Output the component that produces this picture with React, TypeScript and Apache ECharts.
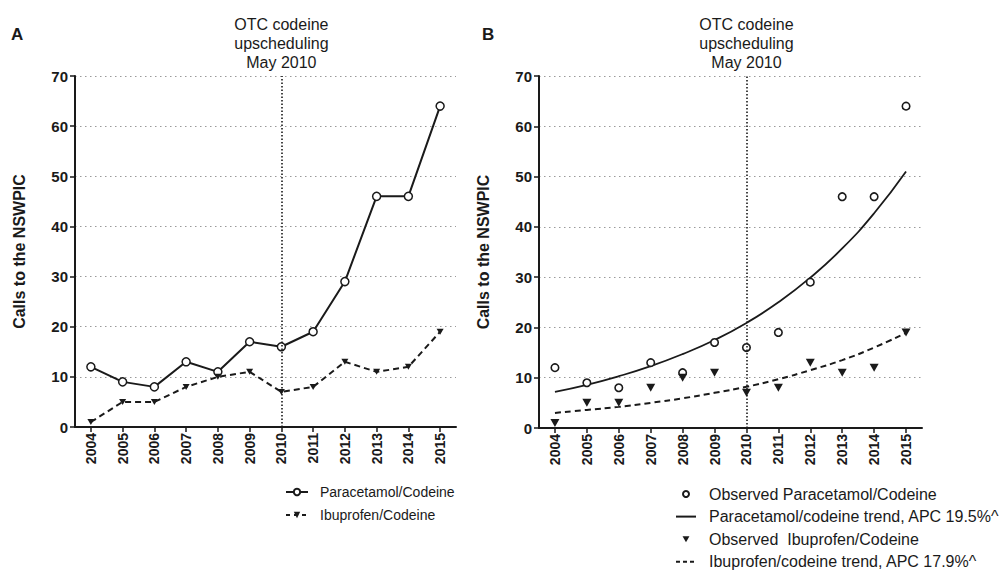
import React, { useEffect, useRef } from "react";
import * as echarts from "echarts";

const years = ["2004", "2005", "2006", "2007", "2008", "2009", "2010", "2011", "2012", "2013", "2014", "2015"];
const paracetamolObserved = [12, 9, 8, 13, 11, 17, 16, 19, 29, 46, 46, 64];
const ibuprofenObserved = [1, 5, 5, 8, 10, 11, 7, 8, 13, 11, 12, 19];
const paracetamolTrend = [7.2, 8.6, 10.3, 12.3, 14.7, 17.5, 20.9, 25.0, 29.9, 35.7, 42.7, 51.0];
const ibuprofenTrend = [3.0, 3.6, 4.2, 5.0, 5.9, 7.0, 8.2, 9.7, 11.5, 13.5, 16.0, 18.9];
const yTicks = { min: 0, max: 70, interval: 10 };
const interventionYear = "2010";
const interventionLabel = "OTC codeine\nupscheduling\nMay 2010";
const yTitle = "Calls to the NSWPIC";
const namesA = ["Paracetamol/Codeine", "Ibuprofen/Codeine"];
const namesB = [
  "Observed Paracetamol/Codeine",
  "Paracetamol/codeine trend, APC 19.5%^",
  "Observed  Ibuprofen/Codeine",
  "Ibuprofen/codeine trend, APC 17.9%^",
];

const FONT = "'Liberation Sans', Arial, Helvetica, sans-serif";
const INK = "#1a1a1a";
const TRI = "path://M0,0L10,0L5,8.66Z";

function xAxis(gridIndex: number) {
  return {
    type: "category",
    gridIndex,
    data: years,
    boundaryGap: true,
    axisLine: { show: true, lineStyle: { color: INK, width: 2 } },
    axisTick: { show: true, alignWithLabel: true, length: 5, lineStyle: { color: INK, width: 1.5 } },
    axisLabel: { rotate: 90, fontSize: 14, fontWeight: "bold", color: INK, fontFamily: FONT, margin: 6 },
    splitLine: { show: false },
  };
}

function yAxis(gridIndex: number) {
  return {
    type: "value",
    gridIndex,
    min: yTicks.min,
    max: yTicks.max,
    interval: yTicks.interval,
    name: yTitle,
    nameLocation: "middle",
    nameRotate: 90,
    nameGap: 48,
    nameTextStyle: { fontSize: 16, fontWeight: "bold", color: INK, fontFamily: FONT },
    axisLine: { show: true, lineStyle: { color: INK, width: 2 } },
    axisTick: { show: true, length: 5, lineStyle: { color: INK, width: 1.5 } },
    axisLabel: { fontSize: 15, fontWeight: "bold", color: INK, fontFamily: FONT, margin: 7 },
    splitLine: { show: true, lineStyle: { color: "#9a9a9a", type: [1.5, 3.5], width: 1.2 } },
  };
}

function markLine() {
  return {
    silent: true,
    symbol: ["none", "none"],
    animation: false,
    lineStyle: { color: INK, type: [1.5, 2], width: 1.6 },
    label: {
      show: true,
      position: "end",
      formatter: interventionLabel,
      fontSize: 16,
      lineHeight: 19,
      color: INK,
      fontFamily: FONT,
      distance: 4,
    },
    emphasis: { disabled: true },
    data: [{ xAxis: interventionYear }],
  };
}

const hiddenSymbol = { color: "transparent", borderColor: "transparent", opacity: 0 };

export default function App() {
  const ref = useRef<HTMLDivElement>(null);
  useEffect(() => {
    if (!ref.current) return;
    const chart = echarts.init(ref.current, undefined, { renderer: "svg" });
    const option = {
      animation: false,
      backgroundColor: "#ffffff",
      textStyle: { fontFamily: FONT },
      grid: [
        { left: 75, top: 76, width: 381, height: 351 },
        { left: 539, top: 76, width: 383, height: 352 },
      ],
      xAxis: [xAxis(0), xAxis(1)],
      yAxis: [yAxis(0), yAxis(1)],
      legend: [
        {
          data: [{ name: namesA[0] }, { name: namesA[1], lineStyle: { type: [4, 4] } }],
          orient: "vertical",
          left: 285,
          top: 484,
          padding: 0,
          itemWidth: 22,
          itemHeight: 8,
          itemGap: 7,
          selectedMode: false,
          textStyle: { fontSize: 14, lineHeight: 16, color: INK, fontFamily: FONT, padding: [0, 0, 0, 7] },
        },
        {
          data: [
            { name: namesB[0] },
            { name: namesB[1], itemStyle: hiddenSymbol },
            { name: namesB[2] },
            { name: namesB[3], itemStyle: hiddenSymbol, lineStyle: { type: [4, 3] } },
          ],
          orient: "vertical",
          left: 675,
          top: 486,
          padding: 0,
          itemWidth: 20,
          itemHeight: 6,
          itemGap: 6.6,
          selectedMode: false,
          textStyle: { fontSize: 16, lineHeight: 16, color: INK, fontFamily: FONT, padding: [0, 0, 0, 8] },
        },
      ],
      graphic: [
        { type: "text", left: 11, top: 26, style: { text: "A", font: `bold 17px ${FONT}`, fill: INK } },
        { type: "text", left: 482, top: 26, style: { text: "B", font: `bold 17px ${FONT}`, fill: INK } },
      ],
      series: [
        {
          name: namesA[0],
          type: "line",
          xAxisIndex: 0,
          yAxisIndex: 0,
          data: paracetamolObserved,
          symbol: "circle",
          symbolSize: 8,
          itemStyle: { color: "#ffffff", borderColor: INK, borderWidth: 1.5 },
          lineStyle: { color: INK, width: 2 },
          z: 3,
          markLine: markLine(),
        },
        {
          name: namesA[1],
          type: "line",
          xAxisIndex: 0,
          yAxisIndex: 0,
          data: ibuprofenObserved,
          symbol: TRI,
          symbolSize: [7, 6],
          itemStyle: { color: INK },
          lineStyle: { color: INK, width: 2, type: [6, 4] },
          z: 3,
        },
        {
          name: namesB[0],
          type: "scatter",
          xAxisIndex: 1,
          yAxisIndex: 1,
          data: paracetamolObserved,
          symbol: "circle",
          symbolSize: 7.5,
          itemStyle: { color: "#ffffff", borderColor: INK, borderWidth: 1.6, opacity: 1 },
          z: 4,
        },
        {
          name: namesB[1],
          type: "line",
          xAxisIndex: 1,
          yAxisIndex: 1,
          data: paracetamolTrend,
          symbol: "none",
          smooth: true,
          lineStyle: { color: INK, width: 1.8 },
          itemStyle: { color: INK },
          z: 3,
          markLine: markLine(),
        },
        {
          name: namesB[2],
          type: "scatter",
          xAxisIndex: 1,
          yAxisIndex: 1,
          data: ibuprofenObserved,
          symbol: TRI,
          symbolSize: [9, 8],
          itemStyle: { color: INK, opacity: 1 },
          z: 4,
        },
        {
          name: namesB[3],
          type: "line",
          xAxisIndex: 1,
          yAxisIndex: 1,
          data: ibuprofenTrend,
          symbol: "none",
          smooth: true,
          lineStyle: { color: INK, width: 2, type: [6, 4] },
          itemStyle: { color: INK },
          z: 3,
        },
      ],
    };
    chart.setOption(option as any);
    return () => chart.dispose();
  }, []);
  return (
    <div
      ref={ref}
      style={{ position: "fixed", left: 0, top: 0, width: 1005, height: 570, background: "#fff" }}
    />
  );
}
